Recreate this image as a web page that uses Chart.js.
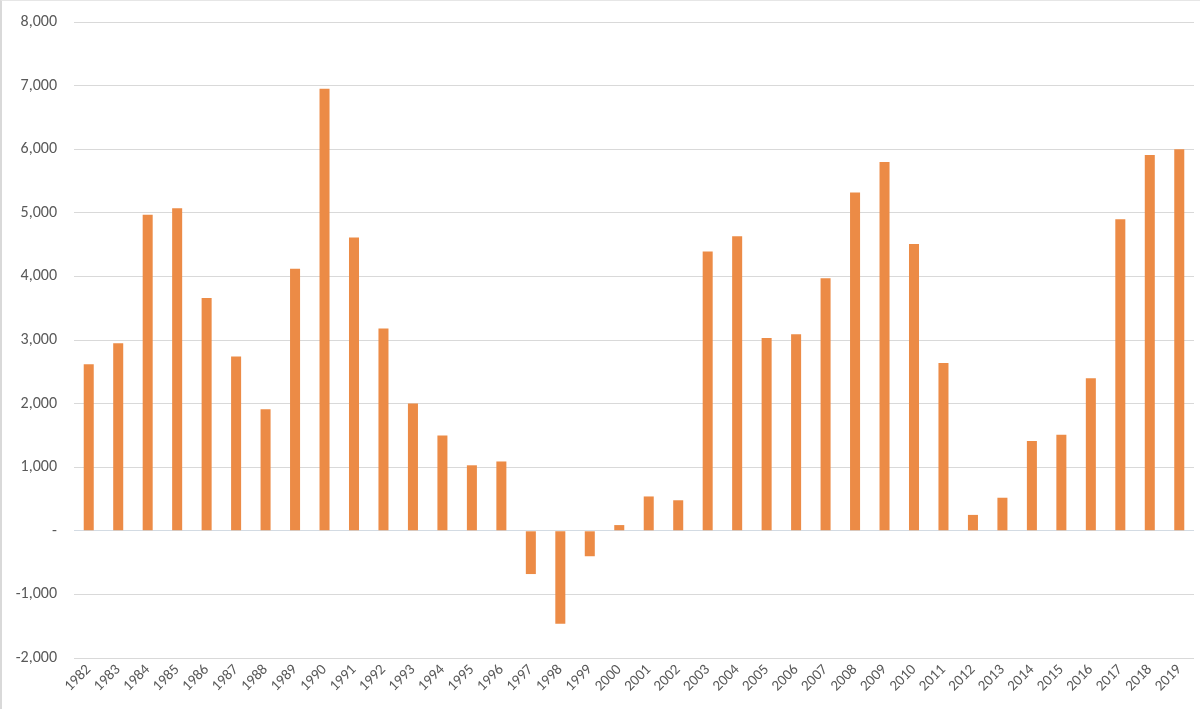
<!DOCTYPE html>
<html>
<head>
<meta charset="utf-8">
<script src="https://cdn.jsdelivr.net/npm/chart.js@4/dist/chart.umd.min.js"></script>
<style>
  html, body { margin: 0; padding: 0; background: #fff; }
  #wrap { position: relative; width: 1200px; height: 709px; box-sizing: border-box; border-left: 2px solid #d9d9d9; border-top: 1px solid #e6e6e6; }
</style>
</head>
<body>
<div id="wrap"><canvas id="chart"></canvas></div>
<script>
// Années et valeurs
const annees = ['1982','1983','1984','1985','1986','1987','1988','1989','1990','1991',
  '1992','1993','1994','1995','1996','1997','1998','1999','2000','2001',
  '2002','2003','2004','2005','2006','2007','2008','2009','2010','2011',
  '2012','2013','2014','2015','2016','2017','2018','2019'];

const valeurs = [2620, 2950, 4970, 5070, 3660, 2740, 1910, 4120, 6950, 4610,
  3180, 2000, 1500, 1030, 1090, -680, -1460, -400, 90, 540,
  480, 4390, 4630, 3030, 3090, 3970, 5320, 5800, 4510, 2640,
  250, 520, 1410, 1510, 2400, 4900, 5910, 6000];

const yMin = -2000;
const yMax = 8000;
const yPas = 1000;

const police = 'Calibri, Carlito, "Open Sans", sans-serif';

const ctx = document.getElementById('chart').getContext('2d');

new Chart(ctx, {
  type: 'bar',
  data: {
    labels: annees,
    datasets: [{
      data: valeurs,
      backgroundColor: '#ec8b46',
      barPercentage: 0.34,
      categoryPercentage: 1.0
    }]
  },
  options: {
    responsive: true,
    maintainAspectRatio: false,
    animation: false,
    layout: { padding: { top: 21, right: 6, left: 0, bottom: 0 } },
    plugins: {
      legend: { display: false },
      tooltip: { enabled: false }
    },
    scales: {
      x: {
        grid: { display: false, drawTicks: false },
        border: { display: false },
        ticks: {
          color: '#595959',
          font: { family: police, size: 15 },
          maxRotation: 45,
          minRotation: 45,
          autoSkip: false,
          padding: 3
        },
        afterFit(scale) { scale.height = 51; }
      },
      y: {
        min: yMin,
        max: yMax,
        border: { display: false },
        grid: {
          color: (c) => c.tick && c.tick.value === 0 ? '#d3dbe3' : '#d9d9d9',
          drawTicks: false,
          lineWidth: 1
        },
        ticks: {
          stepSize: yPas,
          color: '#595959',
          font: { family: police, size: 16 },
          padding: 17,
          callback: (v) => v === 0 ? '-' : v.toLocaleString('en-US')
        },
        afterFit(scale) {
          scale.width = 72;
          // le padding des ticks ne doit pas décaler le haut du graphique
          scale.paddingTop = 0;
          scale.paddingBottom = 0;
        }
      }
    }
  }
});
</script>
</body>
</html>
